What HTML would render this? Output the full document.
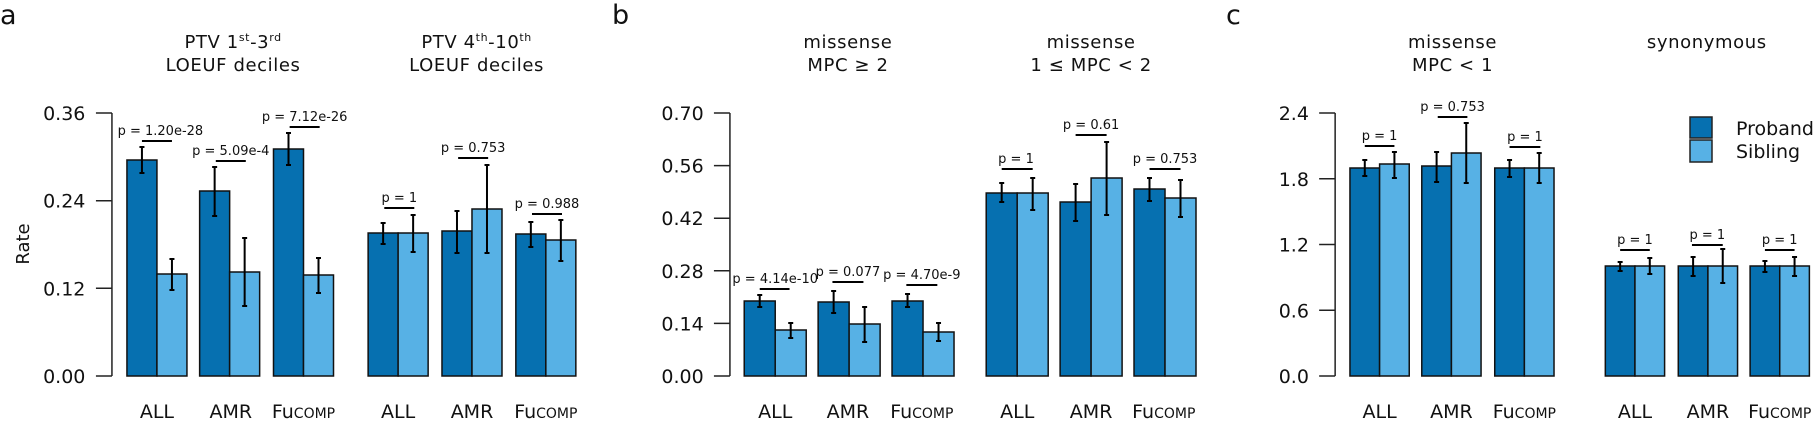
<!DOCTYPE html>
<html><head><meta charset="utf-8"><style>
html,body{margin:0;padding:0;background:#fff}
svg{display:block;font-family:"DejaVu Sans","Liberation Sans",sans-serif}
</style></head><body>
<svg id="s" width="1816" height="421" xmlns="http://www.w3.org/2000/svg"></svg>
<script>
const s=document.getElementById('s');let h='';
const P='#0670b0',S='#57b1e5';
let OFF=0,K=1;const X=x=>OFF+(x-OFF)*K;
function axis(x,labels,ys,labx){x=X(x);labx=X(labx);h+=`<line x1="${x}" y1="113" x2="${x}" y2="376" stroke="#222" stroke-width="1.5"/>`;
labels.forEach((l,i)=>{h+=`<line x1="${x-16}" y1="${ys[i]}" x2="${x}" y2="${ys[i]}" stroke="#222" stroke-width="1.5"/><text x="${labx}" y="${ys[i]+7}" font-size="19" text-anchor="end" fill="#111">${l}</text>`;});}
function bar(x0,x1,y,e0,e1,c){h+=`<rect x="${x0}" y="${y}" width="${x1-x0}" height="${376-y}" fill="${c}" stroke="#111" stroke-width="1.5"/>`;
const m=(x0+x1)/2;h+=`<line x1="${m}" y1="${e0}" x2="${m}" y2="${e1}" stroke="#000" stroke-width="2"/><line x1="${m-2.5}" y1="${e0}" x2="${m+2.5}" y2="${e0}" stroke="#000" stroke-width="2"/><line x1="${m-2.5}" y1="${e1}" x2="${m+2.5}" y2="${e1}" stroke="#000" stroke-width="2"/>`;}
function pv(x0,x1,y,t,tx){x0=X(x0);x1=X(x1);tx=tx===undefined?(x0+x1)/2:X(tx);h+=`<line x1="${x0}" y1="${y}" x2="${x1}" y2="${y}" stroke="#000" stroke-width="2"/><text x="${tx}" y="${y-6}" font-size="13" text-anchor="middle" fill="#111">${t}</text>`;}
function xl(cx,t){cx=X(cx);if(t=='Fu')h+=`<text x="${cx}" y="418" font-size="19" text-anchor="middle" fill="#111">Fu<tspan font-size="14">COMP</tspan></text>`;else h+=`<text x="${cx}" y="418" font-size="19" text-anchor="middle" fill="#111">${t}</text>`;}
function title(cx,l1,l2){cx=X(cx);h+=`<text x="${cx}" y="48" font-size="18" text-anchor="middle" fill="#111" letter-spacing="0.6">${l1}</text>`;if(l2)h+=`<text x="${cx}" y="71" font-size="18" text-anchor="middle" fill="#111" letter-spacing="0.6">${l2}</text>`;}
function grp(x,p,ps,s,ss){const a=X(x),b=X(x+26),c=X(x+52);bar(a,b,p,ps[0],ps[1],P);bar(b,c,s,ss[0],ss[1],S);}
const ys=[113,200.7,288.3,376];
// panel a
OFF=0;K=1.154;
h+=`<text x="0" y="24" font-size="27" fill="#111">a</text>`;
h+=`<text transform="translate(29,244) rotate(-90)" font-size="18" text-anchor="middle" fill="#111">Rate</text>`;
axis(97,['0.36','0.24','0.12','0.00'],ys,74);
title(202,'PTV 1<tspan font-size="11" dy="-7">st</tspan><tspan dy="7">-3</tspan><tspan font-size="11" dy="-7">rd</tspan>','LOEUF deciles');
title(413,'PTV 4<tspan font-size="11" dy="-7">th</tspan><tspan dy="7">-10</tspan><tspan font-size="11" dy="-7">th</tspan>','LOEUF deciles');
grp(110,160,[147,173],274,[259,290]);grp(173,191,[167,216],272,[238,306]);grp(237,149,[133,165],275,[258,293]);
grp(319,233,[223,244],233,[215,252]);grp(383,231,[211,253],209,[165,253]);grp(447,234,[222,247],240,[220,261]);
pv(123,149,141,'p = 1.20e-28',139);pv(187,213,161,'p = 5.09e-4',200);pv(251,277,127,'p = 7.12e-26',264);
pv(333,359,208,'p = 1',346);pv(397,423,158,'p = 0.753',410);pv(461,487,214,'p = 0.988',474);
[136,200,263,345,409,473].forEach((c,i)=>xl(c,['ALL','AMR','Fu'][i%3]));
// panel b
OFF=600;K=1.192;
h+=`<text x="612" y="24" font-size="27" fill="#111">b</text>`;
axis(709,['0.70','0.56','0.42','0.28','0.14','0.00'],[113,165.6,218.2,270.8,323.4,376],687);
title(808,'missense','MPC ≥ 2');title(1012,'missense','1 ≤ MPC &lt; 2');
grp(721,301,[295,307],330,[323,338]);grp(783,302,[291,313],324,[307,342]);grp(845,301,[294,307],332,[323,341]);
grp(924,193,[183,202],193,[178,210]);grp(986,202,[184,221],178,[142,215]);grp(1048,189,[178,201],198,[180,217]);
pv(734,759,289,'p = 4.14e-10',747);pv(795,821,282,'p = 0.077',808);pv(857,883,285,'p = 4.70e-9',870);
pv(937,963,169,'p = 1',949);pv(999,1025,135,'p = 0.61',1012);pv(1061,1087,169,'p = 0.753',1074);
[747,808,870,950,1012,1073].forEach((c,i)=>xl(c,['ALL','AMR','Fu'][i%3]));
// panel c
OFF=1220;K=1.14;
h+=`<text x="1226" y="24" font-size="27" fill="#111">c</text>`;
axis(1321,['2.4','1.8','1.2','0.6','0.0'],[113,178.75,244.5,310.25,376],1298);
title(1424,'missense','MPC &lt; 1');title(1647,'synonymous');
grp(1334,168,[160,176],164,[152,178]);grp(1397,166,[152,182],153,[123,183]);grp(1461,168,[160,177],168,[153,183]);
grp(1558,266,[262,271],266,[258,274]);grp(1622,266,[257,276],266,[249,283]);grp(1685,266,[261,272],266,[257,276]);
pv(1347,1373,146,'p = 1');pv(1411,1437,117,'p = 0.753');pv(1474,1501,147,'p = 1');
pv(1571,1597,250,'p = 1');pv(1634,1661,245,'p = 1');pv(1698,1724,250,'p = 1');
[1360,1423,1487,1584,1648,1711].forEach((c,i)=>xl(c,['ALL','AMR','Fu'][i%3]));
h+=`<rect x="1690" y="117" width="22" height="21" fill="${P}" stroke="#222" stroke-width="1.5"/><rect x="1690" y="140" width="22" height="22" fill="${S}" stroke="#222" stroke-width="1.5"/>`;
h+=`<text x="1736" y="135" font-size="19" fill="#111">Proband</text><text x="1736" y="158" font-size="19" fill="#111">Sibling</text>`;
s.innerHTML=h;
</script>
</body></html>
